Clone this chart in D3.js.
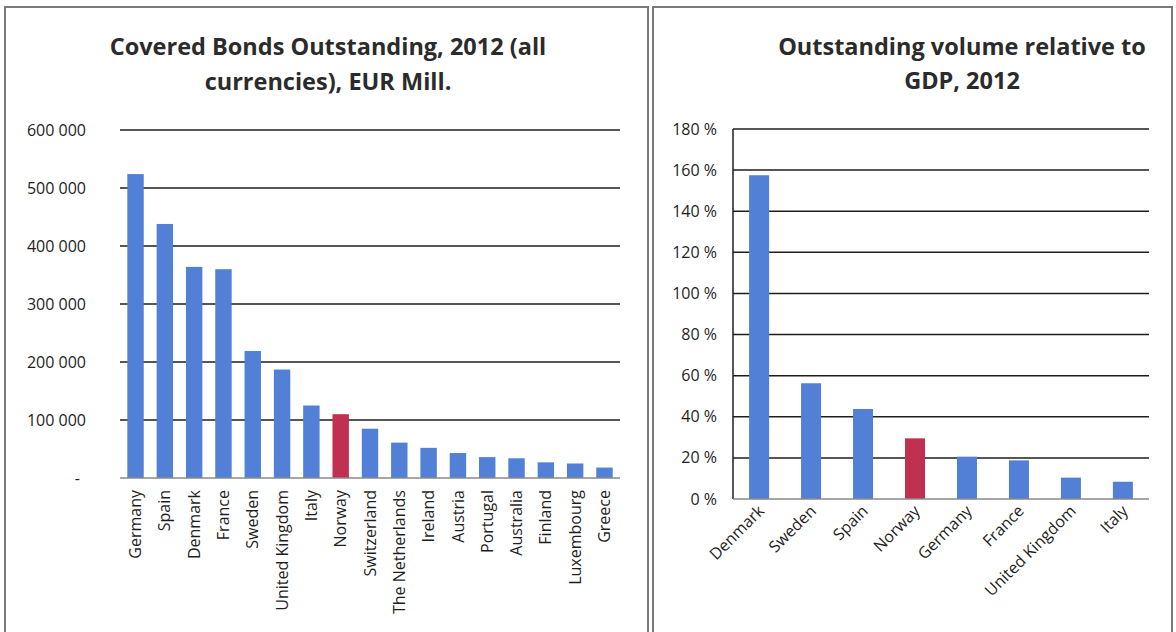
<!DOCTYPE html>
<html lang="en">
<head>
    <meta charset="UTF-8">
    <title>Covered Bonds 2012</title>
    <script src="https://d3js.org/d3.v7.min.js"></script>
    <style>
        body {
            margin: 0;
            padding: 0;
            background-color: #fff;
        }
        svg text {
            font-family: "Open Sans", Arial, sans-serif;
            fill: #1e1e1e;
        }
        .title {
            font-weight: bold;
            font-size: 23.5px;
            fill: #2b2b2b;
        }
        .tick-label {
            font-size: 16px;
        }
    </style>
</head>
<body>
<div id="chart"></div>

<script>
    // Left chart: covered bonds outstanding, EUR mill.
    const bondCountries = ["Germany", "Spain", "Denmark", "France", "Sweden", "United Kingdom", "Italy",
        "Norway", "Switzerland", "The Netherlands", "Ireland", "Austria", "Portugal", "Australia",
        "Finland", "Luxembourg", "Greece"];
    const bondValues = [524000, 438000, 364000, 360000, 219000, 187000, 125000, 110000, 85000,
        61000, 52000, 43000, 36000, 34000, 27000, 25000, 18000];
    const bondTicks = [0, 100000, 200000, 300000, 400000, 500000, 600000];

    // Right chart: outstanding volume relative to GDP, %
    const gdpCountries = ["Denmark", "Sweden", "Spain", "Norway", "Germany", "France", "United Kingdom", "Italy"];
    const gdpValues = [157.5, 56.3, 43.8, 29.5, 20.6, 18.8, 10.4, 8.4];
    const gdpTicks = [0, 20, 40, 60, 80, 100, 120, 140, 160, 180];

    const highlight = "Norway";
    const blue = "#5180d6";
    const red = "#c1304f";

    const svg = d3.select("#chart")
        .append("svg")
        .attr("width", 1176)
        .attr("height", 632);

    // panel frames
    svg.append("path")
        .attr("d", "M5,640 V7 H648 V640")
        .attr("fill", "none")
        .attr("stroke", "#7a7a7a")
        .attr("stroke-width", 2);
    svg.append("path")
        .attr("d", "M653,640 V7 H1172 V640")
        .attr("fill", "none")
        .attr("stroke", "#7a7a7a")
        .attr("stroke-width", 2);

    const spaceFmt = d3.formatLocale({ decimal: ",", thousands: " ", grouping: [3], currency: ["", ""] }).format(",d");

    // ---------- left chart ----------
    const x1 = d3.scaleBand()
        .domain(bondCountries)
        .range([120, 620])
        .paddingInner(0.44)
        .paddingOuter(0.25);

    const y1 = d3.scaleLinear()
        .domain([0, 600000])
        .range([478, 130]);

    const left = svg.append("g");

    left.append("text").attr("class", "title")
        .attr("x", 328).attr("y", 55).attr("text-anchor", "middle")
        .text("Covered Bonds Outstanding, 2012 (all");
    left.append("text").attr("class", "title")
        .attr("x", 328).attr("y", 90).attr("text-anchor", "middle")
        .text("currencies), EUR Mill.");

    left.selectAll(".grid")
        .data(bondTicks.filter(d => d > 0))
        .enter().append("line")
        .attr("x1", 120).attr("x2", 620)
        .attr("y1", d => y1(d)).attr("y2", d => y1(d))
        .attr("stroke", "#1e1e1e")
        .attr("stroke-width", 1.5);

    left.selectAll(".ylab")
        .data(bondTicks)
        .enter().append("text")
        .attr("class", "tick-label")
        .attr("x", d => d === 0 ? 80 : 86)
        .attr("y", d => y1(d))
        .attr("dy", "0.35em")
        .attr("text-anchor", "end")
        .text(d => d === 0 ? "-" : spaceFmt(d));

    left.selectAll(".bar")
        .data(bondCountries)
        .enter().append("rect")
        .attr("x", d => x1(d))
        .attr("y", (d, i) => y1(bondValues[i]))
        .attr("width", x1.bandwidth())
        .attr("height", (d, i) => y1(0) - y1(bondValues[i]))
        .attr("fill", d => d === highlight ? red : blue);

    left.append("line")
        .attr("x1", 120).attr("x2", 620)
        .attr("y1", y1(0)).attr("y2", y1(0))
        .attr("stroke", "#8a8a8a")
        .attr("stroke-width", 1.5);

    left.selectAll(".xlab")
        .data(bondCountries)
        .enter().append("text")
        .attr("class", "tick-label")
        .attr("transform", d => `translate(${x1(d) + x1.bandwidth() / 2},490) rotate(-90)`)
        .attr("dy", "0.35em")
        .attr("text-anchor", "end")
        .text(d => d);

    // ---------- right chart ----------
    const x2 = d3.scaleBand()
        .domain(gdpCountries)
        .range([733, 1149])
        .paddingInner(0.615)
        .paddingOuter(0.31);

    const y2 = d3.scaleLinear()
        .domain([0, 180])
        .range([499, 129]);

    const right = svg.append("g");

    right.append("text").attr("class", "title")
        .attr("x", 962).attr("y", 55).attr("text-anchor", "middle")
        .text("Outstanding volume relative to");
    right.append("text").attr("class", "title")
        .attr("x", 962).attr("y", 89).attr("text-anchor", "middle")
        .text("GDP, 2012");

    right.selectAll(".grid")
        .data(gdpTicks.filter(d => d > 0))
        .enter().append("line")
        .attr("x1", 733).attr("x2", 1149)
        .attr("y1", d => y2(d)).attr("y2", d => y2(d))
        .attr("stroke", "#1e1e1e")
        .attr("stroke-width", 1.5);

    right.append("line")
        .attr("x1", 733).attr("x2", 733)
        .attr("y1", y2(180)).attr("y2", y2(0))
        .attr("stroke", "#1e1e1e")
        .attr("stroke-width", 1.5);

    right.selectAll(".ylab")
        .data(gdpTicks)
        .enter().append("text")
        .attr("class", "tick-label")
        .attr("x", 717)
        .attr("y", d => y2(d))
        .attr("dy", "0.35em")
        .attr("text-anchor", "end")
        .text(d => d + " %");

    right.selectAll(".bar")
        .data(gdpCountries)
        .enter().append("rect")
        .attr("x", d => x2(d))
        .attr("y", (d, i) => y2(gdpValues[i]))
        .attr("width", x2.bandwidth())
        .attr("height", (d, i) => y2(0) - y2(gdpValues[i]))
        .attr("fill", d => d === highlight ? red : blue);

    right.append("line")
        .attr("x1", 733).attr("x2", 1149)
        .attr("y1", y2(0)).attr("y2", y2(0))
        .attr("stroke", "#8a8a8a")
        .attr("stroke-width", 1.5);

    right.selectAll(".xlab")
        .data(gdpCountries)
        .enter().append("text")
        .attr("class", "tick-label")
        .attr("transform", d => `translate(${x2(d) + x2.bandwidth() / 2 + 6},512) rotate(-45)`)
        .attr("text-anchor", "end")
        .text(d => d);
</script>
</body>
</html>
